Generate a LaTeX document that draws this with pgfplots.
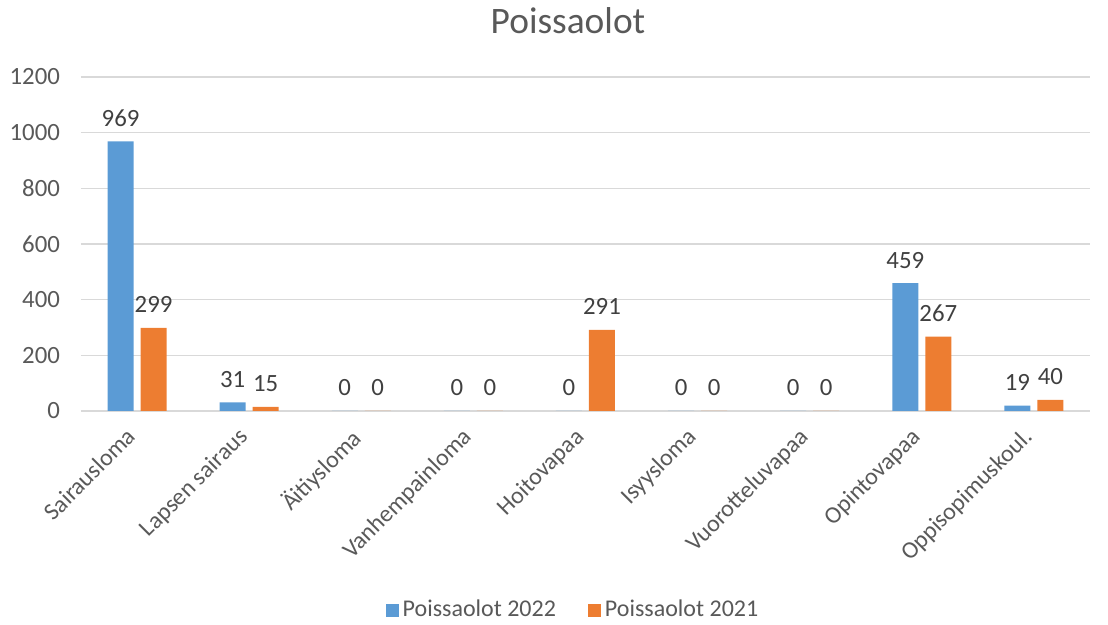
\documentclass[border=0pt]{standalone}
\usepackage{fontspec}
\setmainfont{Carlito}
\usepackage{pgfplots}
\pgfplotsset{compat=1.18}
\definecolor{cblue}{HTML}{5B9BD5}
\definecolor{corange}{HTML}{ED7D31}
\definecolor{ctext}{HTML}{595959}
\definecolor{cdata}{HTML}{404040}
\definecolor{cgrid}{HTML}{D9D9D9}
\begin{document}
\begin{tikzpicture}
\useasboundingbox (0,0) rectangle (554pt,312.5pt);
\begin{axis}[
  at={(40.5pt,107pt)}, anchor=south west,
  scale only axis, width=504.5pt, height=167pt,
  ybar=3.5pt, bar width=13pt,
  xmin=-0.5, xmax=8.5, ymin=0, ymax=1200,
  ytick={0,200,...,1200},
  xtick=data,
  xticklabels={Sairausloma,Lapsen sairaus,Äitiysloma,Vanhempainloma,Hoitovapaa,Isyysloma,Vuorotteluvapaa,Opintovapaa,Oppisopimuskoul.},
  x tick label style={rotate=45, anchor=north east, font=\fontsize{12}{14}\selectfont, text=ctext, inner sep=1pt, xshift=-8.5pt, yshift=0pt},
  y tick label style={font=\fontsize{12.4}{14}\selectfont, text=ctext, xshift=-7pt},
  /pgf/number format/assume math mode=true,
  scaled y ticks=false,
  yticklabel style={/pgf/number format/1000 sep={}},
  ymajorgrids, grid style={cgrid, line width=0.8pt},
  axis line style={draw=none},
  axis x line*=bottom, axis y line*=left,
  major tick length=0pt,
  nodes near coords,
  every node near coord/.append style={font=\fontsize{12.4}{14}\selectfont, text=cdata, yshift=4pt},
  legend columns=2,
  legend style={at={(0.4886,-0.596)}, anchor=center, draw=none, font=\fontsize{12}{14}\selectfont, text=ctext,
    /tikz/every even column/.append style={column sep=14pt}},
  legend image code/.code={\fill[#1] (0pt,-3.25pt) rectangle (6.5pt,3.25pt);},
  clip=false,
]
\addplot[fill=cblue, draw=none] coordinates {(0,969) (1,31) (2,0) (3,0) (4,0) (5,0) (6,0) (7,459) (8,19)};
\addplot[fill=corange, draw=none] coordinates {(0,299) (1,15) (2,0) (3,0) (4,291) (5,0) (6,0) (7,267) (8,40)};
\legend{Poissaolot 2022, Poissaolot 2021}
\end{axis}
\node[anchor=base, font=\fontsize{18.7}{22}\selectfont, text=ctext, inner sep=0pt] at (284pt,295.5pt) {Poissaolot};
\end{tikzpicture}
\end{document}
